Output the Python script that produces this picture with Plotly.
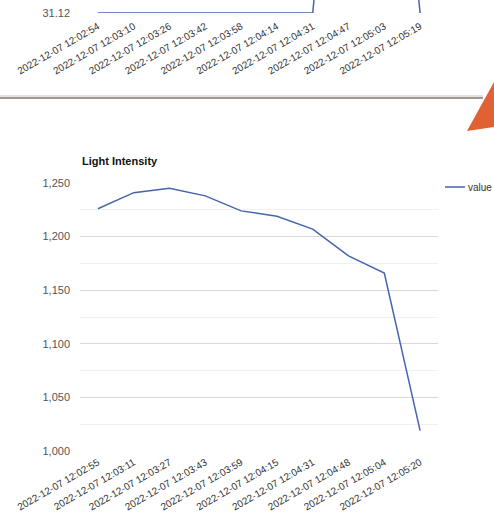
import plotly.graph_objects as go

W, H = 494, 515

top_times = ["2022-12-07 12:02:54", "2022-12-07 12:03:10", "2022-12-07 12:03:26",
             "2022-12-07 12:03:42", "2022-12-07 12:03:58", "2022-12-07 12:04:14",
             "2022-12-07 12:04:31", "2022-12-07 12:04:47", "2022-12-07 12:05:03",
             "2022-12-07 12:05:19"]
top_values = [31.12, 31.12, 31.12, 31.12, 31.12, 31.12, 31.12, 31.4, 31.4, 31.12]

light_times = ["2022-12-07 12:02:55", "2022-12-07 12:03:11", "2022-12-07 12:03:27",
               "2022-12-07 12:03:43", "2022-12-07 12:03:59", "2022-12-07 12:04:15",
               "2022-12-07 12:04:31", "2022-12-07 12:04:48", "2022-12-07 12:05:04",
               "2022-12-07 12:05:20"]
light_values = [1226, 1241, 1245, 1238, 1224, 1219, 1207, 1182, 1166, 1019]

y_ticks = [1000, 1050, 1100, 1150, 1200, 1250]
series_name = "value"


def fx(px):
    return px / W


def fy(py):
    return 1 - py / H


LINE = "#4565ad"
FONT = "Liberation Sans, Arial, sans-serif"

fig = go.Figure()
fig.add_trace(go.Scatter(x=top_times, y=top_values, mode="lines",
                         line=dict(color=LINE, width=1.5), xaxis="x2", yaxis="y2",
                         showlegend=False))
fig.add_trace(go.Scatter(x=light_times, y=light_values, mode="lines", name=series_name,
                         line=dict(color=LINE, width=1.5), xaxis="x", yaxis="y",
                         showlegend=False))

xcommon = dict(type="category", range=[-0.5, 9.5], domain=[fx(80), fx(438)],
               showgrid=False, showline=False, zeroline=False, ticks="",
               tickangle=-30, tickfont=dict(size=10, color="#333333", family=FONT),
               automargin=False, fixedrange=True)

fig.update_layout(
    width=W, height=H,
    margin=dict(l=0, r=0, t=0, b=0, pad=0),
    paper_bgcolor="white", plot_bgcolor="white",
    font=dict(family=FONT),
    showlegend=False,
    xaxis=dict(anchor="y", ticklabelstandoff=3, **xcommon),
    yaxis=dict(domain=[fy(451), fy(183)], range=[1000, 1250], tickvals=y_ticks,
               tickformat=",", gridcolor="#d9d9d9", gridwidth=1, zeroline=False,
               showline=False, ticks="", ticklabelstandoff=9, automargin=False,
               tickfont=dict(size=11, color="#555555", family=FONT),
               minor=dict(dtick=25, showgrid=True, gridcolor="#f0f0f0", gridwidth=1),
               fixedrange=True),
    xaxis2=dict(anchor="y2", ticklabelstandoff=5, **xcommon),
    yaxis2=dict(domain=[fy(13), 1], range=[31.12, 31.13], tickvals=[31.12],
                ticktext=["31.12"], gridcolor="#d9d9d9", zeroline=False,
                showline=False, ticks="", ticklabelstandoff=9, automargin=False,
                tickfont=dict(size=11, color="#555555", family=FONT),
                fixedrange=True),
    annotations=[
        dict(text="<b>Light Intensity</b>", x=fx(80), y=fy(161),
             xref="paper", yref="paper", xanchor="left", yanchor="middle",
             showarrow=False, font=dict(size=11, color="#111111", family=FONT)),
        dict(text=series_name, x=fx(466), y=fy(187),
             xref="paper", yref="paper", xanchor="left", yanchor="middle",
             showarrow=False, font=dict(size=10, color="#333333", family=FONT)),
    ],
    shapes=[
        dict(type="line", xref="paper", yref="paper", x0=fx(445), x1=fx(465),
             y0=fy(187), y1=fy(187), line=dict(color=LINE, width=1.5)),
        dict(type="line", xref="paper", yref="paper", x0=0, x1=fx(483),
             y0=fy(96), y1=fy(96), line=dict(color="#ddd8d3", width=1.5)),
        dict(type="line", xref="paper", yref="paper", x0=0, x1=fx(483),
             y0=fy(98), y1=fy(98), line=dict(color="#9e9893", width=2)),
        dict(type="path", xref="paper", yref="paper",
             path=f"M {fx(467)},{fy(131)} L {fx(494)},{fy(82)} L {fx(494)},{fy(127)} Z",
             fillcolor="#e06234", line=dict(width=0)),
    ],
)

fig.write_html("out.html")
